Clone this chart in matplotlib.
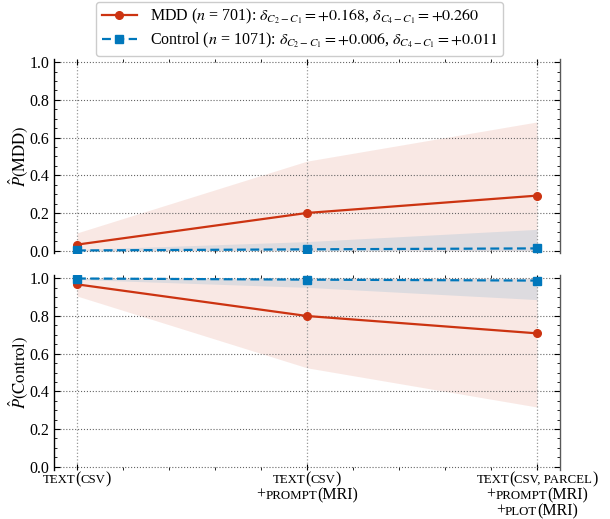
import matplotlib
matplotlib.use("Agg")
import matplotlib.pyplot as plt
from matplotlib.lines import Line2D
from matplotlib.offsetbox import TextArea, HPacker, VPacker, AnnotationBbox
from matplotlib.ticker import MultipleLocator

plt.rcParams['font.family'] = 'serif'
plt.rcParams['font.serif'] = ['Liberation Serif', 'DejaVu Serif']
plt.rcParams['mathtext.fontset'] = 'stix'

# ---------------- data ----------------
conditions = [0, 1, 2]
# label pieces: (text, smallcaps?)
tick_labels = [
    [[("TEXT", True), ("(", False), ("CSV", True), (")", False)]],
    [[("TEXT", True), ("(", False), ("CSV", True), (")", False)],
     [("+", False), ("PROMPT", True), ("(MRI)", False)]],
    [[("TEXT", True), ("(", False), ("CSV, PARCEL", True), (")", False)],
     [("+", False), ("PROMPT", True), ("(MRI)", False)],
     [("+", False), ("PLOT", True), ("(MRI)", False)]],
]

mdd_p_mdd = [0.032, 0.200, 0.292]
mdd_p_mdd_lo = [0.0, 0.0, 0.0]
mdd_p_mdd_hi = [0.094, 0.475, 0.683]
ctl_p_mdd = [0.001, 0.007, 0.012]
ctl_p_mdd_lo = [0.0, 0.0, 0.0]
ctl_p_mdd_hi = [0.006, 0.048, 0.113]

mdd_p_ctl = [0.968, 0.800, 0.708]
mdd_p_ctl_lo = [0.906, 0.525, 0.317]
mdd_p_ctl_hi = [1.0, 1.0, 1.0]
ctl_p_ctl = [0.999, 0.993, 0.988]
ctl_p_ctl_lo = [0.994, 0.952, 0.887]
ctl_p_ctl_hi = [1.0, 1.0, 1.0]

mdd_label = r"MDD ($n$ = 701): $\delta_{C_2-C_1}=+0.168$, $\delta_{C_4-C_1}=+0.260$"
ctl_label = r"Control ($n$ = 1071): $\delta_{C_2-C_1}=+0.006$, $\delta_{C_4-C_1}=+0.011$"

RED = "#CC3311"
BLUE = "#0077BB"

fig = plt.figure(figsize=(6.1, 5.19), dpi=100)
ax1 = fig.add_axes([0.0885, 0.5116, 0.8295, 0.374])
ax2 = fig.add_axes([0.0885, 0.0952, 0.8295, 0.374])

panels = [
    (ax1, mdd_p_mdd, mdd_p_mdd_lo, mdd_p_mdd_hi, ctl_p_mdd, ctl_p_mdd_lo, ctl_p_mdd_hi, r"$\hat{P}(\mathrm{MDD})$"),
    (ax2, mdd_p_ctl, mdd_p_ctl_lo, mdd_p_ctl_hi, ctl_p_ctl, ctl_p_ctl_lo, ctl_p_ctl_hi, r"$\hat{P}(\mathrm{Control})$"),
]

for ax, m, mlo, mhi, c, clo, chi, ylab in panels:
    ax.fill_between(conditions, mlo, mhi, color=RED, alpha=0.11, lw=0, zorder=1)
    ax.fill_between(conditions, clo, chi, color=BLUE, alpha=0.11, lw=0, zorder=1)
    ax.plot(conditions, m, color=RED, lw=1.6, marker='o', ms=5.5, zorder=4)
    ax.plot(conditions, c, color=BLUE, lw=1.6, ls='--', dashes=(4, 2), marker='s', ms=5.5, zorder=4)
    ax.set_xlim(-0.1, 2.1)
    ax.set_ylim(-0.015, 1.015)
    ax.set_xticks(conditions)
    ax.xaxis.set_minor_locator(MultipleLocator(0.2))
    ax.yaxis.set_minor_locator(MultipleLocator(0.05))
    ax.set_yticks([0, 0.2, 0.4, 0.6, 0.8, 1.0])
    ax.set_yticklabels(["0.0", "0.2", "0.4", "0.6", "0.8", "1.0"])
    ax.tick_params(which='both', direction='in', top=True, right=True, labelsize=11.5)
    ax.tick_params(which='major', length=4, width=0.8)
    ax.tick_params(which='minor', length=2, width=0.6)
    ax.grid(True, which='major', axis='y', ls=':', lw=0.8, color='0.4')
    ax.grid(True, which='major', axis='x', ls=':', lw=0.9, color='0.6')
    ax.spines['top'].set_visible(False)
    ax.spines['bottom'].set_visible(False)
    ax.spines['left'].set_linewidth(1.0)
    ax.spines['right'].set_linewidth(1.0)
    ax.spines['right'].set_color('0.35')
    ax.set_ylabel(ylab, fontsize=12)
    ax.yaxis.set_label_coords(-0.047, 0.5)
    ax.set_xticklabels([])

# small-caps style tick labels
NORMAL = 11.5
SMALL = 9.3
for xi, lines in zip(conditions, tick_labels):
    rows = []
    for line in lines:
        parts = [TextArea(t, textprops=dict(fontsize=SMALL if sc else NORMAL, family='serif'))
                 for t, sc in line]
        rows.append(HPacker(children=parts, align='baseline', pad=0, sep=0))
    box = VPacker(children=rows, align='center', pad=0, sep=0)
    ab = AnnotationBbox(box, (xi, 0), xycoords=ax2.get_xaxis_transform(),
                        xybox=(0, -1), boxcoords='offset points',
                        box_alignment=(0.5, 1.0), frameon=False, pad=0,
                        annotation_clip=False)
    ax2.add_artist(ab)

handles = [
    Line2D([], [], color=RED, lw=1.6, marker='o', ms=5.5),
    Line2D([], [], color=BLUE, lw=1.6, ls='--', dashes=(4, 2), marker='s', ms=5.5),
]
fig.legend(handles, [mdd_label, ctl_label], loc='upper center', bbox_to_anchor=(0.491, 0.997),
           borderaxespad=0,
           fontsize=11.5, frameon=True, fancybox=True, edgecolor='0.8', framealpha=1,
           handlelength=2.2, borderpad=0.35, labelspacing=0.3, handletextpad=0.8)

fig.savefig("out.png", dpi=100)
